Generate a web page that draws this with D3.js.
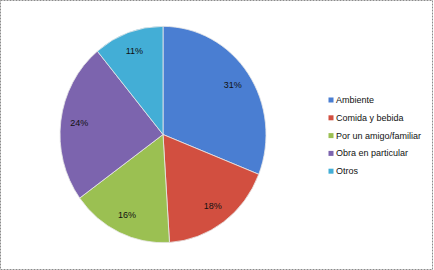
<!DOCTYPE html>
<html>
<head>
<meta charset="utf-8">
<script src="https://cdn.jsdelivr.net/npm/d3@7"></script>
<style>
  body { margin: 0; background: #fff; }
  svg { display: block; font-family: "Liberation Sans", Arial, sans-serif; }
</style>
</head>
<body>
<div id="chart"></div>
<script>
// data
const categories = ['Ambiente', 'Comida y bebida', 'Por un amigo/familiar', 'Obra en particular', 'Otros'];
const values = [31, 18, 16, 24, 11];
const colors = ['#4A7ED2', '#D24F40', '#9BC052', '#7C64AE', '#43AED6'];

const width = 434, height = 270;

const svg = d3.select('#chart').append('svg')
    .attr('width', width)
    .attr('height', height);

// dashed frame
svg.append('rect')
    .attr('x', 0.5).attr('y', 0.5)
    .attr('width', width - 2).attr('height', height - 1)
    .attr('fill', 'none')
    .attr('stroke', '#8c8c8c')
    .attr('stroke-dasharray', '2,1');

const cx = 163, cy = 134.5, r = 103;

const pie = d3.pie().sort(null).value(d => d);
const arc = d3.arc().innerRadius(0).outerRadius(r);
const labelArc = d3.arc().innerRadius(r * 0.82).outerRadius(r * 0.82);

const pieGroup = svg.append('g')
    .attr('transform', `translate(${cx},${cy}) scale(1,1.05)`);

const arcs = pie(values);

pieGroup.selectAll('path.slice')
    .data(arcs)
    .join('path')
    .classed('slice', true)
    .attr('d', arc)
    .attr('fill', (d, i) => colors[i])
    .attr('stroke', '#e8e8e8')
    .attr('stroke-width', 0.8);

pieGroup.selectAll('text.label')
    .data(arcs)
    .join('text')
    .classed('label', true)
    .attr('transform', d => {
        const [x, y] = labelArc.centroid(d);
        return `translate(${x},${y}) scale(1,${1 / 1.05})`;
    })
    .attr('text-anchor', 'middle')
    .attr('dominant-baseline', 'central')
    .attr('font-size', 9)
    .attr('fill', '#111')
    .text(d => d.value + '%');

// legend
const legend = svg.append('g')
    .attr('transform', 'translate(331,100)');

const rows = legend.selectAll('g.row')
    .data(categories)
    .join('g')
    .classed('row', true)
    .attr('transform', (d, i) => `translate(0,${i * 17.8})`);

rows.append('rect')
    .attr('x', -2.5).attr('y', -2.5)
    .attr('width', 5).attr('height', 5)
    .attr('fill', (d, i) => colors[i]);

rows.append('text')
    .attr('x', 5)
    .attr('dominant-baseline', 'central')
    .attr('font-size', 9)
    .attr('fill', '#111')
    .text(d => d);
</script>
</body>
</html>
